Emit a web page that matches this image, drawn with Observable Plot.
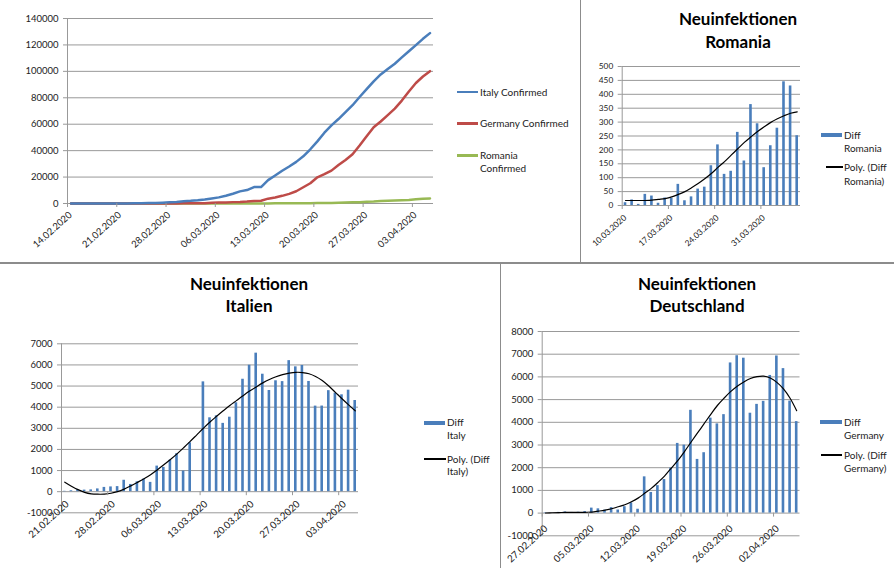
<!DOCTYPE html>
<html><head><meta charset="utf-8">
<script src="https://cdn.jsdelivr.net/npm/d3@7"></script>
<script src="https://cdn.jsdelivr.net/npm/@observablehq/plot@0.6"></script>
<style>
html,body{margin:0;padding:0;background:#fff;}
#root{position:relative;width:894px;height:568px;overflow:hidden;font-family:Lato,"Open Sans",sans-serif;color:#222;}
.panel{position:absolute;}
.panel svg{overflow:visible;}
.title{position:absolute;font-weight:bold;font-size:17px;text-align:center;color:#000;white-space:nowrap;}
.lg{position:absolute;font-size:10px;line-height:13px;height:13px;white-space:nowrap;color:#222;}
.sw{position:absolute;}
.border{position:absolute;background:#8c8c8c;}
</style></head><body><div id="root"></div>
<script>
// ---------- data: cumulative confirmed (top-left) ----------
const cumStart = "2020-02-14";
const cumTicks = ["14.02.2020","21.02.2020","28.02.2020","06.03.2020","13.03.2020","20.03.2020","27.03.2020","03.04.2020"];
const cumYTicks = [0,20000,40000,60000,80000,100000,120000,140000];
const italyConfirmed = [3,3,3,3,3,3,3,20,62,155,229,322,453,655,888,1128,
  1694,2036,2502,3089,3858,4636,5883,7375,9172,10149,12462,12462,17660,21157,24747,27980,31506,35713,41035,47021,
  53578,59138,63927,69176,74386,80589,86498,92472,97689,101739,105792,
  110574,115242,119827,124632,128948];
const germanyConfirmed = [16,16,16,16,16,16,16,16,16,16,16,17,27,46,48,79,
  130,159,196,262,482,670,799,1040,1176,1457,1908,2078,3675,4585,5795,7272,9257,12327,15320,19848,
  22213,24873,29056,32986,37323,43938,50871,57695,62095,66885,71808,
  77872,84794,91159,96092,100123];
const romaniaConfirmed = [0,0,0,0,0,0,0,0,0,0,0,0,1,1,3,3,
  3,3,3,4,6,9,9,15,15,25,45,49,89,123,131,158,184,260,277,308,
  367,433,576,794,906,1029,1292,1452,1815,2109,2245,
  2460,2738,3183,3613,3864];
const cumSeries = ["Italy Confirmed","Germany Confirmed","Romania Confirmed"];

// ---------- data: Romania new infections ----------
const roStart = "2020-03-10";
const roTicks = ["10.03.2020","17.03.2020","24.03.2020","31.03.2020"];
const roYTicks = [0,50,100,150,200,250,300,350,400,450,500];
const diffRomania = [10,20,4,40,34,8,27,26,76,17,31,59,66,143,218,112,123,263,160,363,294,136,215,278,445,430,251];
const polyRomania = [18,18,18,18,19,22,25,31,40,50,64,79,96,115,137,158,181,204,227,247,266,283,299,312,323,332,337];

// ---------- data: Italy new infections ----------
const itStart = "2020-02-21";
const itTicks = ["21.02.2020","28.02.2020","06.03.2020","13.03.2020","20.03.2020","27.03.2020","03.04.2020"];
const itYTicks = [-1000,0,1000,2000,3000,4000,5000,6000,7000];
const diffItaly = [17,42,93,74,85,131,202,225,240,540,342,466,595,440,1210,1150,1492,1797,977,2313,0,
  5198,3497,3590,3233,3526,4207,5322,5986,6557,5560,4789,5249,5210,6203,5909,5974,5217,4050,4053,
  4782,4668,4585,4805,4316];
const polyItaly = [450,260,95,-30,-100,-120,-115,-75,0,120,275,440,610,800,1030,1270,1520,1790,2080,2380,2690,
  3000,3300,3570,3830,4080,4310,4540,4760,4960,5150,5310,5440,5540,5610,5650,5640,5580,5450,5260,
  5000,4700,4400,4110,3830];

// ---------- data: Germany new infections ----------
const deStart = "2020-02-27";
const deTicks = ["27.02.2020","05.03.2020","12.03.2020","19.03.2020","26.03.2020","02.04.2020"];
const deYTicks = [-1000,0,1000,2000,3000,4000,5000,6000,7000,8000];
const diffGermany = [19,2,31,51,29,37,66,220,188,129,241,136,281,451,170,1597,910,1210,1477,1985,3070,2993,4528,
  2365,2660,4183,3930,4337,6615,6933,6824,4400,4790,4923,6064,6922,6365,4933,4031];
const polyGermany = [5,15,25,30,30,30,35,45,85,130,190,280,370,500,660,870,1090,1350,1630,1970,2310,2700,3120,
  3530,3940,4350,4740,5060,5350,5590,5780,5930,6010,6030,5950,5760,5470,5060,4510];

// ---------- helpers ----------
const GRID = "#999999", TXT = "#222222";
const parseLabel = s => { const [d,m,y] = s.split("."); return new Date(Date.UTC(+y, +m - 1, +d)); };
const t0Of = s => new Date(s + "T00:00:00Z");
const series = (start, values) => values.map((v, i) => {
  const date = d3.utcDay.offset(t0Of(start), i);
  return {date, mid: d3.utcHour.offset(date, 12), next: d3.utcDay.offset(date, 1), value: v};
});

function chart(o) {
  const t0 = t0Of(o.start);
  const t1 = d3.utcDay.offset(t0, o.n);
  const ticks = o.tickLabels.map(s => ({date: parseLabel(s), label: s}));
  return Plot.plot({
    width: o.width, height: o.height,
    marginTop: o.m[0], marginRight: o.m[1], marginBottom: o.m[2], marginLeft: o.m[3],
    style: {fontFamily: "Lato, 'Open Sans', sans-serif", color: TXT, background: "transparent", overflow: "visible"},
    x: {type: "utc", domain: [t0, t1], axis: null},
    y: {domain: o.yDomain, axis: null},
    marks: [
      Plot.gridY(o.yTicks, {stroke: GRID, strokeOpacity: 1, strokeWidth: 1}),
      Plot.axisY(o.yTicks, {label: null, tickSize: 4, tickPadding: 5, stroke: GRID, fill: TXT, fontSize: o.yFont, tickFormat: d => String(d)}),
      Plot.ruleX([t0], {stroke: GRID, strokeWidth: 1}),
      ...o.marks,
      Plot.ruleX(ticks, {x: "date", y1: 0, y2: 0, insetBottom: -4, stroke: GRID}),
      Plot.text(ticks, {x: "date", y: 0, text: "label", rotate: -42, textAnchor: "end",
        dx: o.ldx, dy: o.ldy, fontSize: o.xFont, fill: TXT})
    ]
  });
}

const root = document.getElementById("root");
function place(node, left, top) {
  const d = document.createElement("div");
  d.className = "panel"; d.style.left = left + "px"; d.style.top = top + "px";
  d.appendChild(node); root.appendChild(d);
}
function div(cls, css, text) {
  const d = document.createElement("div");
  d.className = cls; Object.assign(d.style, css);
  if (text != null) d.textContent = text;
  root.appendChild(d); return d;
}
function lgText(x, yc, text) { div("lg", {left: x + "px", top: (yc - 6.5) + "px"}, text); }
function lgLine(x1, x2, yc, color, w) { div("sw", {left: x1 + "px", top: (yc - w / 2) + "px", width: (x2 - x1) + "px", height: w + "px", background: color}); }
function title(cx, top, l1, l2, lh) {
  const d = div("title", {left: (cx - 110) + "px", width: "220px", top: top + "px", lineHeight: lh + "px"});
  d.appendChild(document.createTextNode(l1)); d.appendChild(document.createElement("br")); d.appendChild(document.createTextNode(l2));
}

// ---------- panel 1: cumulative ----------
const cIt = series(cumStart, italyConfirmed), cDe = series(cumStart, germanyConfirmed), cRo = series(cumStart, romaniaConfirmed);
const colors = ["#4a7ebb", "#be4b48", "#98b954"];
place(chart({
  width: 579, height: 261, m: [18, 146, 58, 67],
  start: cumStart, n: italyConfirmed.length, tickLabels: cumTicks,
  yDomain: [0, 140000], yTicks: cumYTicks, yFont: 9.5, xFont: 9.5, ldx: 3, ldy: 10,
  marks: [
    Plot.line(cRo, {x: "mid", y: "value", stroke: colors[2], strokeWidth: 2.5}),
    Plot.line(cDe, {x: "mid", y: "value", stroke: colors[1], strokeWidth: 2.5}),
    Plot.line(cIt, {x: "mid", y: "value", stroke: colors[0], strokeWidth: 2.5})
  ]
}), 0, 0);

// ---------- panel 2: Romania ----------
const BAR = "#4a7ebb";
const dRo = series(roStart, diffRomania), pRo = series(roStart, polyRomania);
place(chart({
  width: 313, height: 261, m: [66, 94, 56, 40.7],
  start: roStart, n: diffRomania.length, tickLabels: roTicks,
  yDomain: [0, 500], yTicks: roYTicks, yFont: 8.3, xFont: 8.3, ldx: 3, ldy: 11,
  marks: [
    Plot.rectY(dRo, {x1: "date", x2: "next", y1: 0, y2: "value", insetLeft: 2, insetRight: 2, fill: BAR}),
    Plot.line(pRo, {x: "mid", y: "value", stroke: "#000", strokeWidth: 1.2, curve: "catmull-rom"})
  ]
}), 581, 0);

// ---------- panel 3: Italy ----------
const dIt = series(itStart, diffItaly), pIt = series(itStart, polyItaly);
place(chart({
  width: 499, height: 304, m: [79.3, 141, 55.7, 61],
  start: itStart, n: diffItaly.length, tickLabels: itTicks,
  yDomain: [-1000, 7000], yTicks: itYTicks, yFont: 9.5, xFont: 9.8, ldx: 6, ldy: 11,
  marks: [
    Plot.rectY(dIt, {x1: "date", x2: "next", y1: 0, y2: "value", insetLeft: 2, insetRight: 2, fill: BAR}),
    Plot.line(pIt, {x: "mid", y: "value", stroke: "#000", strokeWidth: 1.2, curve: "catmull-rom"})
  ]
}), 0, 264);

// ---------- panel 4: Germany ----------
const dDe = series(deStart, diffGermany), pDe = series(deStart, polyGermany);
place(chart({
  width: 393, height: 304, m: [67, 94.5, 32.7, 40.7],
  start: deStart, n: diffGermany.length, tickLabels: deTicks,
  yDomain: [-1000, 8000], yTicks: deYTicks, yFont: 9.5, xFont: 9.8, ldx: 4, ldy: 14,
  marks: [
    Plot.rectY(dDe, {x1: "date", x2: "next", y1: 0, y2: "value", insetLeft: 2, insetRight: 2, fill: BAR}),
    Plot.line(pDe, {x: "mid", y: "value", stroke: "#000", strokeWidth: 1.2, curve: "catmull-rom"})
  ]
}), 501, 264);

// ---------- borders ----------
div("border", {left: "579.5px", top: "0px", width: "1.5px", height: "262px"});
div("border", {left: "0px", top: "261.5px", width: "894px", height: "2px"});
div("border", {left: "499.5px", top: "263px", width: "1.5px", height: "305px"});

// ---------- titles ----------
title(738, 6.5, "Neuinfektionen", "Romania", 23.4);
title(249, 272.6, "Neuinfektionen", "Italien", 22.7);
title(697, 272.6, "Neuinfektionen", "Deutschland", 22.7);

// ---------- legends ----------
lgLine(457, 478, 92, colors[0], 2.5);  lgText(480, 92, "Italy Confirmed");
lgLine(457, 478, 123.5, colors[1], 2.5); lgText(480, 123.5, "Germany Confirmed");
lgLine(457, 478, 155.3, colors[2], 2.5); lgText(480, 155.3, "Romania"); lgText(480, 168.5, "Confirmed");

lgLine(821, 842, 135, BAR, 4); lgText(844, 135, "Diff"); lgText(844, 148.5, "Romania");
lgLine(826, 843, 167, "#000", 1.2); lgText(844, 167, "Poly. (Diff"); lgText(844, 181, "Romania)");

lgLine(424, 445, 422.5, BAR, 4); lgText(447, 422.5, "Diff"); lgText(447, 435, "Italy");
lgLine(424, 446, 459, "#000", 1.2); lgText(447, 459, "Poly. (Diff"); lgText(447, 471.5, "Italy)");

lgLine(820, 842, 422, BAR, 4); lgText(844, 422, "Diff"); lgText(844, 435, "Germany");
lgLine(821, 842, 455, "#000", 1.2); lgText(844, 455, "Poly. (Diff"); lgText(844, 468, "Germany)");
</script></body></html>
